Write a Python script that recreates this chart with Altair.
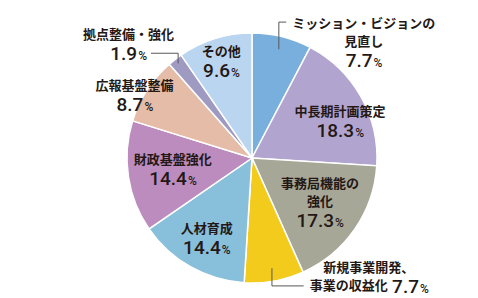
import math
import altair as alt
import pandas as pd

# ---------------- data ----------------
categories = [
    "ミッション・ビジョンの見直し",
    "中長期計画策定",
    "事務局機能の強化",
    "新規事業開発、事業の収益化",
    "人材育成",
    "財政基盤強化",
    "広報基盤整備",
    "拠点整備・強化",
    "その他",
]
values = [7.7, 18.3, 17.3, 7.7, 14.4, 14.4, 8.7, 1.9, 9.6]
label_lines = [
    ["ミッション・ビジョンの", "見直し"],
    ["中長期計画策定"],
    ["事務局機能の", "強化"],
    ["新規事業開発、", "事業の収益化"],
    ["人材育成"],
    ["財政基盤強化"],
    ["広報基盤整備"],
    ["拠点整備・強化"],
    ["その他"],
]
colors = ["#79AFDD", "#B1A4CF", "#A7A797", "#F3CB1C", "#88BFDA",
          "#BC8CBF", "#E4BCA7", "#9E9AC1", "#BAD5EF"]

# ---------------- layout ----------------
CX, CY, R = 252, 158, 125
LH = 18
NAME_FS, NUM_FS, PCT_FS = 13, 19, 12
label_r = [161, 95.5, 81, 166.6, 92, 80, 133, 168, 102]
label_shift = [30.1, 6.5, -1.8, -34.2, 0, 0.6, -4.9, -9.4, -0.3]
value_inline = [False, False, False, True, False, False, False, False, False]
# index -> (start radius, which text line, side where label sits)
leaders = {0: (112, "first", "right"), 3: (112, "last", "right"), 7: (120, "last", "left")}


def cjk_w(s):
    return len(s) * NAME_FS


def num_w(s):
    return sum((0.263 if c == "." else 0.5615) for c in s) * NUM_FS


PCT_W = 0.73 * PCT_FS

total = sum(values)
cum = 0.0
name_rows, num_rows, lead_rows = [], [], []
for i, (cat, v) in enumerate(zip(categories, values)):
    mid = (cum + v / 2) / total * 360.0
    cum += v
    a = math.radians(mid + label_shift[i])
    bx = CX + label_r[i] * math.sin(a)
    by = CY - label_r[i] * math.cos(a)
    names = label_lines[i]
    n = len(names) + (0 if value_inline[i] else 1)
    ys = [by + (k - (n - 1) / 2) * LH for k in range(n)]
    numtxt = f"{v:.1f}"
    nw = num_w(numtxt)
    line_left = []
    if value_inline[i]:
        for k, nm in enumerate(names[:-1]):
            name_rows.append({"x": bx, "y": ys[k], "t": nm})
            line_left.append(bx - cjk_w(nm) / 2)
        last = names[-1]
        gap = 5
        tw = cjk_w(last) + gap + nw + PCT_W
        start = bx - tw / 2
        name_rows.append({"x": start + cjk_w(last) / 2, "y": ys[-1], "t": last})
        line_left.append(start)
        split = start + cjk_w(last) + gap + nw
        vy = ys[-1]
    else:
        for k, nm in enumerate(names):
            name_rows.append({"x": bx, "y": ys[k], "t": nm})
            line_left.append(bx - cjk_w(nm) / 2)
        split = bx + (nw - PCT_W) / 2
        vy = ys[-1]
        line_left.append(split - nw)
    num_rows.append({"x": split, "y": vy + 0.711 * NUM_FS / 2, "num": numtxt, "pct": "%"})

    if i in leaders:
        lr, which, side = leaders[i]
        ma = math.radians(mid)
        sx = CX + lr * math.sin(ma)
        sy = CY - lr * math.cos(ma)
        if which == "first":
            ty = ys[0] - 2
            left = line_left[0]
        else:
            ty = ys[-1]
            left = line_left[-1]
        if side == "right":
            ex = left - 6
        else:
            ex = split + PCT_W + 5
        for o, (px, py) in enumerate([(sx, sy), (sx, ty), (ex, ty)]):
            lead_rows.append({"seg": cat, "o": o, "x": px, "y": py})

df = pd.DataFrame({"category": categories, "value": values, "order": list(range(len(values)))})
names_df = pd.DataFrame(name_rows)
nums_df = pd.DataFrame(num_rows)
lead_df = pd.DataFrame(lead_rows)

pie = alt.Chart(df).mark_arc(outerRadius=R, stroke="white", strokeWidth=1.5).encode(
    theta=alt.Theta("value:Q", stack=True),
    color=alt.Color("category:N", scale=alt.Scale(domain=categories, range=colors), legend=None),
    order=alt.Order("order:Q"),
    x=alt.value(CX),
    y=alt.value(CY),
)

lines = alt.Chart(lead_df).mark_line(color="#595757", strokeWidth=1).encode(
    x=alt.X("x:Q", scale=None),
    y=alt.Y("y:Q", scale=None),
    detail="seg:N",
    order="o:Q",
)

name_text = alt.Chart(names_df).mark_text(
    font="Noto Sans CJK JP", fontSize=NAME_FS, fontWeight="bold", color="#231815",
    align="center", baseline="middle",
).encode(x=alt.X("x:Q", scale=None), y=alt.Y("y:Q", scale=None), text="t:N")

num_text = alt.Chart(nums_df).mark_text(
    font="Roboto", fontSize=NUM_FS, fontWeight=500, color="#231815",
    align="right", baseline="alphabetic",
).encode(x=alt.X("x:Q", scale=None), y=alt.Y("y:Q", scale=None), text="num:N")

pct_text = alt.Chart(nums_df).mark_text(
    font="Roboto", fontSize=PCT_FS, fontWeight=500, color="#231815",
    align="left", baseline="alphabetic", dx=1,
).encode(x=alt.X("x:Q", scale=None), y=alt.Y("y:Q", scale=None), text="pct:N")

chart = alt.layer(pie, lines, name_text, num_text, pct_text).properties(
    width=478, height=298, padding=0,
    autosize=alt.AutoSizeParams(type="none"),
    background="white",
).configure_view(stroke=None)

chart.save("out.html", embed_options={"renderer": "svg", "actions": False})
